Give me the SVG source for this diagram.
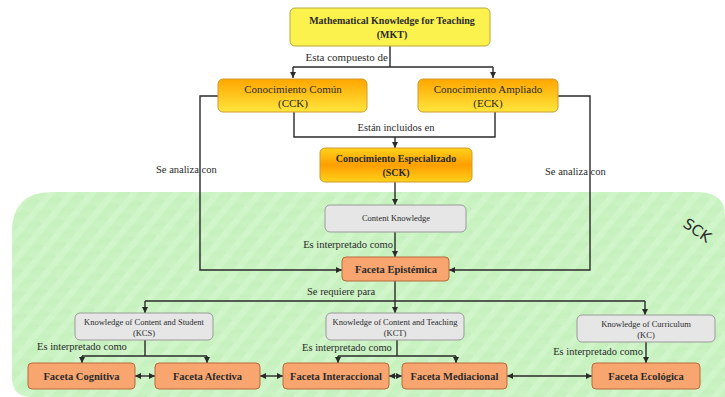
<svg xmlns="http://www.w3.org/2000/svg" width="725" height="397" viewBox="0 0 725 397">
<defs>
<marker id="ah" markerWidth="6" markerHeight="6" refX="6" refY="3" orient="auto-start-reverse" markerUnits="userSpaceOnUse">
<path d="M0,0 L6,3 L0,6 z" fill="#2a2a2a"/>
</marker>
<linearGradient id="gCC" x1="0" y1="0" x2="0" y2="1">
<stop offset="0" stop-color="#ffa600"/>
<stop offset="1" stop-color="#ffe63c"/>
</linearGradient>
<linearGradient id="gSCK" x1="0" y1="0" x2="0" y2="1">
<stop offset="0" stop-color="#ffd21a"/>
<stop offset="0.5" stop-color="#ff9e00"/>
<stop offset="1" stop-color="#ffd21a"/>
</linearGradient>
<linearGradient id="gGreen" x1="0" y1="0" x2="1" y2="1">
<stop offset="0" stop-color="#cff4c7"/>
<stop offset="0.5" stop-color="#c6f1be"/>
<stop offset="1" stop-color="#cdf3c5"/>
</linearGradient>
<pattern id="tex" width="16" height="16" patternUnits="userSpaceOnUse" patternTransform="rotate(40)">
<rect width="16" height="16" fill="url(#gGreen)"/>
<rect width="6" height="16" fill="#dcf8d6" opacity="0.35"/>
</pattern>
</defs>
<style>
text{font-family:"Liberation Serif","Times New Roman",serif;fill:#2a2a2a}
.b{font-weight:bold}
.lbl{font-size:10.5px}
.sm{font-size:8.5px}
.mid{text-anchor:middle}
.ln{fill:none;stroke:#2a2a2a;stroke-width:1.4}
.arr{marker-end:url(#ah)}
.dbl{marker-start:url(#ah);marker-end:url(#ah)}
.yel{fill:#fbf24e;stroke:#b8a83a;stroke-width:1}
.org{fill:url(#gCC);stroke:#d09a30;stroke-width:1}
.sck{fill:url(#gSCK);stroke:#d09a30;stroke-width:1}
.gry{fill:#e6e6e6;stroke:#9a9a9a;stroke-width:1}
.fac{fill:#f8a570;stroke:#b86a3a;stroke-width:1}
</style>
<rect width="725" height="397" fill="#ffffff"/>
<path id="sck-area" d="M12,232 Q12,192 52,192 L700,192 Q725,194 725,215 L725,397 L32,397 Q12,397 12,378 Z" fill="url(#tex)"/>
<text x="682" y="226" transform="rotate(35 682 226)" style="font-family:'DejaVu Sans',sans-serif;font-size:15px">SCK</text>

<g id="connectors">
<path class="ln" d="M390,46 V67"/>
<path class="ln" d="M293,67 H493"/>
<path class="ln arr" d="M293,67 V78"/>
<path class="ln arr" d="M493,67 V78"/>
<path class="ln" d="M294,112 V137 H495 V112"/>
<path class="ln arr" d="M395,137 V148"/>
<path class="ln arr" d="M395,182 V205"/>
<path class="ln arr" d="M395,232 V257"/>
<path class="ln arr" d="M218,96 H200 V270 H342"/>
<path class="ln arr" d="M558,96 H590 V270 H449"/>
<path class="ln" d="M395,281 V301"/>
<path class="ln" d="M145,301 H645"/>
<path class="ln arr" d="M145,301 V313"/>
<path class="ln arr" d="M395,301 V313"/>
<path class="ln arr" d="M645,301 V315"/>
<path class="ln" d="M145,340 V356"/>
<path class="ln" d="M82,356 H207"/>
<path class="ln arr" d="M82,356 V363"/>
<path class="ln arr" d="M207,356 V363"/>
<path class="ln" d="M397,340 V356"/>
<path class="ln" d="M338,356 H456"/>
<path class="ln arr" d="M338,356 V363"/>
<path class="ln arr" d="M456,356 V363"/>
<path class="ln arr" d="M646,342 V363"/>
<path class="ln dbl" d="M135,376 H155"/>
<path class="ln dbl" d="M260,376 H283"/>
<path class="ln dbl" d="M389,376 H402"/>
<path class="ln dbl" d="M507,376 H592"/>
<text class="lbl" x="388" y="61" text-anchor="end" style="font-size:11px">Esta compuesto de</text>
<text class="lbl mid" x="396" y="131">Están incluidos en</text>
<text class="lbl" x="156" y="173">Se analiza con</text>
<text class="lbl" x="545" y="175">Se analiza con</text>
<text class="lbl" x="393" y="248" text-anchor="end">Es interpretado como</text>
<text class="lbl" x="307" y="295">Se requiere para</text>
<text class="lbl" x="37" y="350">Es interpretado como</text>
<text class="lbl" x="302" y="351">Es interpretado como</text>
<text class="lbl" x="643" y="355" text-anchor="end">Es interpretado como</text>
</g>

<g id="mkt"><rect class="yel" x="290" y="8" width="200" height="38" rx="5"/>
<text class="b mid" x="392" y="24" style="font-size:10px">Mathematical Knowledge for Teaching</text>
<text class="b mid" x="392" y="38" style="font-size:10px">(MKT)</text></g>

<g id="cck"><rect class="org" x="218" y="79" width="149" height="33" rx="5"/>
<text class="mid" x="293" y="93" style="font-size:11px">Conocimiento Común</text>
<text class="mid" x="293" y="107" style="font-size:11px">(CCK)</text></g>

<g id="eck"><rect class="org" x="418" y="79" width="140" height="33" rx="5"/>
<text class="mid" x="488" y="93" style="font-size:11px">Conocimiento Ampliado</text>
<text class="mid" x="488" y="107" style="font-size:11px">(ECK)</text></g>

<g id="sck"><rect class="sck" x="320" y="148" width="152" height="34" rx="5"/>
<text class="b mid" x="396" y="162" style="font-size:10px">Conocimiento Especializado</text>
<text class="b mid" x="396" y="176" style="font-size:10px">(SCK)</text></g>

<g id="ck"><rect class="gry" x="325" y="205" width="141" height="27" rx="5"/>
<text class="sm mid" x="396" y="221">Content Knowledge</text></g>

<g id="epistemica"><rect class="fac" x="342" y="257" width="107" height="24" rx="4"/>
<text class="b mid" x="396" y="273" style="font-size:10.5px">Faceta Epistémica</text></g>

<g id="kcs"><rect class="gry" x="75" y="313" width="138" height="27" rx="5"/>
<text class="sm mid" x="144" y="325">Knowledge of Content and Student</text>
<text class="sm mid" x="144" y="336">(KCS)</text></g>

<g id="kct"><rect class="gry" x="326" y="313" width="138" height="27" rx="5"/>
<text class="sm mid" x="395" y="325">Knowledge of Content and Teaching</text>
<text class="sm mid" x="395" y="336">(KCT)</text></g>

<g id="kc"><rect class="gry" x="577" y="315" width="138" height="27" rx="5"/>
<text class="sm mid" x="646" y="327">Knowledge of Curriculum</text>
<text class="sm mid" x="646" y="338">(KC)</text></g>

<g id="cognitiva"><rect class="fac" x="28" y="363" width="107" height="26" rx="4"/>
<text class="b mid" x="81.5" y="380" style="font-size:10.5px">Faceta Cognitiva</text></g>

<g id="afectiva"><rect class="fac" x="155" y="363" width="105" height="26" rx="4"/>
<text class="b mid" x="207.5" y="380" style="font-size:10.5px">Faceta Afectiva</text></g>

<g id="interaccional"><rect class="fac" x="283" y="363" width="106" height="26" rx="4"/>
<text class="b mid" x="336" y="380" style="font-size:10.5px">Faceta Interaccional</text></g>

<g id="mediacional"><rect class="fac" x="402" y="363" width="105" height="26" rx="4"/>
<text class="b mid" x="454.5" y="380" style="font-size:10.5px">Faceta Mediacional</text></g>

<g id="ecologica"><rect class="fac" x="592" y="363" width="108" height="26" rx="4"/>
<text class="b mid" x="646" y="380" style="font-size:10.5px">Faceta Ecológica</text></g>
</svg>
